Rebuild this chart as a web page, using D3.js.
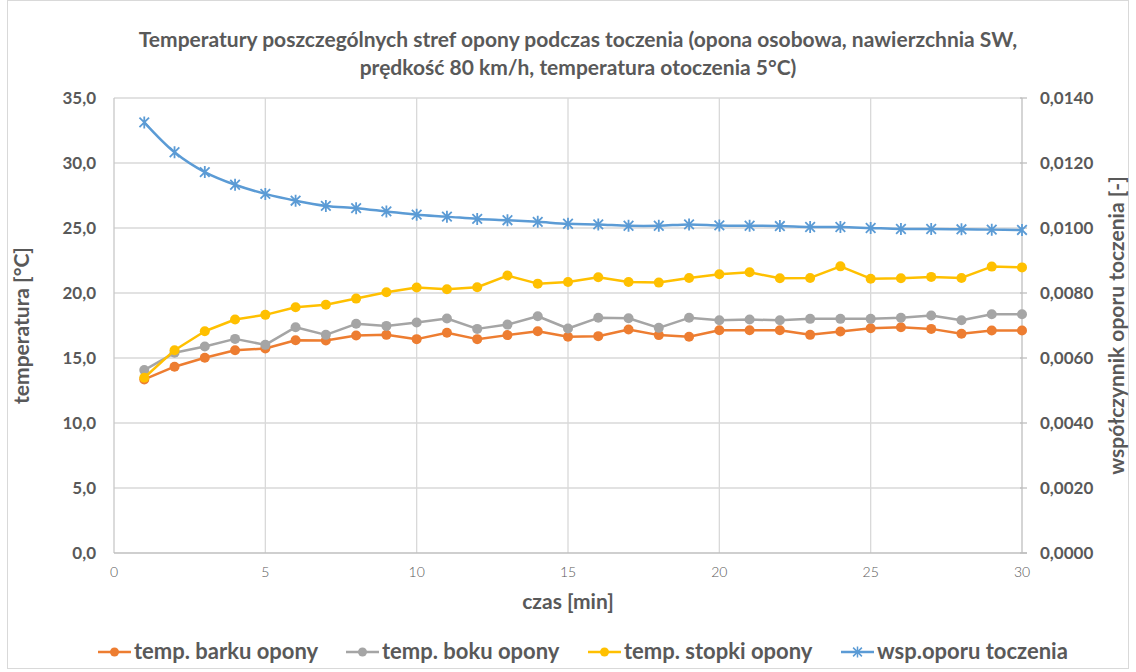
<!DOCTYPE html>
<html>
<head>
  <meta charset='utf-8'/>
  <style>
body { margin: 0; background: #fff; }
text { font-family: Lato, "Open Sans", sans-serif; fill: #595959; }
.title { font-size: 21px; font-weight: bold; text-anchor: middle; }
.ytick { font-size: 17px; font-weight: bold; }
.xtick { font-size: 14px; font-weight: 300; fill: #595959; }
.axis-title { font-size: 21px; font-weight: bold; text-anchor: middle; }
.legend { font-size: 22px; font-weight: bold; }
.grid line { stroke: #d9d9d9; stroke-width: 1.3px; }
  </style>
  <script src="https://d3js.org/d3.v7.min.js"></script>
</head>
<body>
<svg width="1136" height="672"></svg>
<script>

// czas [min]
var minutes = d3.range(1, 31);

var barku = [13.35, 14.33, 15.02, 15.6, 15.73, 16.37, 16.35, 16.73, 16.78, 16.45,
             16.94, 16.45, 16.76, 17.06, 16.63, 16.68, 17.19, 16.76, 16.63, 17.14,
             17.14, 17.14, 16.78, 17.04, 17.29, 17.37, 17.24, 16.86, 17.11, 17.11];

var boku = [14.07, 15.4, 15.89, 16.47, 16.01, 17.37, 16.78, 17.63, 17.47, 17.73,
            18.04, 17.24, 17.57, 18.21, 17.27, 18.09, 18.06, 17.32, 18.09, 17.9,
            17.96, 17.9, 18.01, 18.01, 18.01, 18.09, 18.27, 17.9, 18.37, 18.37];

var stopki = [13.48, 15.6, 17.06, 17.96, 18.32, 18.9, 19.09, 19.57, 20.06, 20.42,
              20.29, 20.44, 21.34, 20.72, 20.85, 21.21, 20.85, 20.8, 21.16, 21.44,
              21.59, 21.13, 21.16, 22.05, 21.1, 21.13, 21.24, 21.16, 22.03, 21.97];

var opor = [0.01325, 0.01233, 0.01172, 0.01133, 0.01105, 0.01084, 0.01068, 0.01061, 0.01051, 0.01041,
            0.01035, 0.01028, 0.01024, 0.01019, 0.01013, 0.01011, 0.01007, 0.01007, 0.01011, 0.01008,
            0.01007, 0.01006, 0.01003, 0.01003, 0.01000, 0.00997, 0.00997, 0.00996, 0.00995, 0.00994];

var leftTicks = [0, 5, 10, 15, 20, 25, 30, 35];
var rightTicks = [0, 0.002, 0.004, 0.006, 0.008, 0.010, 0.012, 0.014];
var xTicks = [0, 5, 10, 15, 20, 25, 30];

var series = [
  {name: "temp. barku opony", values: barku, color: "#ED7D31", axis: "left"},
  {name: "temp. boku opony", values: boku, color: "#A5A5A5", axis: "left"},
  {name: "temp. stopki opony", values: stopki, color: "#FFC000", axis: "left"},
  {name: "wsp.oporu toczenia", values: opor, color: "#5B9BD5", axis: "right"}
];

var svg = d3.select("svg");
var plotLeft = 114, plotRight = 1022, plotTop = 98, plotBottom = 553;

var x = d3.scaleLinear().domain([0, 30]).range([plotLeft, plotRight]);
var yL = d3.scaleLinear().domain([0, 35]).range([plotBottom, plotTop]);
var yR = d3.scaleLinear().domain([0, 0.014]).range([plotBottom, plotTop]);

var comma = function(f) { return function(v) { return f(v).replace(".", ","); }; };

// chart frame
svg.append("rect")
    .attr("x", 7.5).attr("y", 0.5).attr("width", 1121).attr("height", 668)
    .attr("fill", "none").attr("stroke", "#d9d9d9");

// title
var title = svg.append("text").attr("class", "title").attr("x", 578).attr("y", 47);
title.append("tspan").attr("x", 578).text("Temperatury poszczególnych stref opony podczas toczenia (opona osobowa, nawierzchnia SW,");
title.append("tspan").attr("x", 578).attr("dy", 28).text("prędkość 80 km/h, temperatura otoczenia 5°C)");

// grid
var grid = svg.append("g").attr("class", "grid");
grid.selectAll(".h").data(leftTicks.slice(1)).enter().append("line")
    .attr("x1", plotLeft).attr("x2", plotRight)
    .attr("y1", function(d) { return yL(d); }).attr("y2", function(d) { return yL(d); });
grid.selectAll(".v").data(xTicks.slice(1, -1)).enter().append("line")
    .attr("y1", plotTop).attr("y2", plotBottom)
    .attr("x1", function(d) { return x(d); }).attr("x2", function(d) { return x(d); });

// axis lines
svg.append("line").attr("x1", plotLeft).attr("x2", plotLeft).attr("y1", plotTop).attr("y2", plotBottom)
    .attr("stroke", "#c8c8c8").attr("stroke-width", 1.3);
svg.append("line").attr("x1", plotLeft).attr("x2", plotRight + 5).attr("y1", plotBottom).attr("y2", plotBottom)
    .attr("stroke", "#bfbfbf").attr("stroke-width", 1.3);
svg.append("line").attr("x1", plotRight).attr("x2", plotRight).attr("y1", plotTop).attr("y2", plotBottom)
    .attr("stroke", "#bfbfbf").attr("stroke-width", 1.3);
svg.selectAll(".rtick").data(rightTicks).enter().append("line")
    .attr("x1", plotRight - 2).attr("x2", plotRight + 5)
    .attr("y1", function(d) { return yR(d); }).attr("y2", function(d) { return yR(d); })
    .attr("stroke", "#bfbfbf").attr("stroke-width", 1.3);

// tick labels
svg.selectAll(".lt").data(leftTicks).enter().append("text")
    .attr("class", "ytick").attr("text-anchor", "end")
    .attr("x", 96).attr("y", function(d) { return yL(d) + 6; })
    .text(comma(d3.format(".1f")));
svg.selectAll(".rt").data(rightTicks).enter().append("text")
    .attr("class", "ytick").attr("text-anchor", "start")
    .attr("x", 1040).attr("y", function(d) { return yR(d) + 6; })
    .text(comma(d3.format(".4f")));
svg.selectAll(".xt").data(xTicks).enter().append("text")
    .attr("class", "xtick").attr("text-anchor", "middle")
    .attr("x", function(d) { return x(d); }).attr("y", 577)
    .text(function(d) { return d; });

// axis titles
svg.append("text").attr("class", "axis-title").attr("x", 568).attr("y", 609).text("czas [min]");
svg.append("text").attr("class", "axis-title")
    .attr("transform", "translate(29," + (plotTop + plotBottom) / 2 + ") rotate(-90)").text("temperatura [°C]");
svg.append("text").attr("class", "axis-title")
    .attr("transform", "translate(1124," + (plotTop + plotBottom) / 2 + ") rotate(-90)").text("współczynnik oporu toczenia [-]");

// star marker path (asterisk)
function star(cx, cy, r) {
  var a = r * 0.8;
  return "M" + (cx - a) + "," + (cy - a) + "L" + (cx + a) + "," + (cy + a) +
         "M" + (cx - a) + "," + (cy + a) + "L" + (cx + a) + "," + (cy - a) +
         "M" + cx + "," + (cy - r) + "L" + cx + "," + (cy + r);
}

// series
series.forEach(function(s) {
  var yS = s.axis === "left" ? yL : yR;
  var line = d3.line()
      .x(function(d, i) { return x(minutes[i]); })
      .y(function(d) { return yS(d); })
      .curve(s.axis === "right" ? d3.curveCatmullRom.alpha(0.5) : d3.curveLinear);
  var g = svg.append("g");
  g.append("path").datum(s.values).attr("d", line)
      .attr("fill", "none").attr("stroke", s.color).attr("stroke-width", 2.5)
      .attr("stroke-linejoin", "round");
  if (s.axis === "left") {
    g.selectAll("circle").data(s.values).enter().append("circle")
        .attr("cx", function(d, i) { return x(minutes[i]); })
        .attr("cy", function(d) { return yS(d); })
        .attr("r", 5).attr("fill", s.color);
  } else {
    g.selectAll(".star").data(s.values).enter().append("path")
        .attr("d", function(d, i) { return star(x(minutes[i]), yS(d), 6); })
        .attr("stroke", s.color).attr("stroke-width", 1.8).attr("fill", "none");
  }
});

// legend
var legendX = [98, 346, 588, 841];
var lg = svg.selectAll(".lg").data(series).enter().append("g")
    .attr("transform", function(d, i) { return "translate(" + legendX[i] + ",652)"; });
lg.append("line").attr("x1", 0).attr("x2", 33).attr("y1", 0).attr("y2", 0)
    .attr("stroke", function(d) { return d.color; }).attr("stroke-width", 2.5);
lg.each(function(d) {
  var g = d3.select(this);
  if (d.axis === "left") {
    g.append("circle").attr("cx", 16.5).attr("cy", 0).attr("r", 4.5).attr("fill", d.color);
  } else {
    g.append("path").attr("d", star(16.5, 0, 5.5)).attr("stroke", d.color)
        .attr("stroke-width", 1.5).attr("fill", "none");
  }
});
lg.append("text").attr("class", "legend").attr("x", 36).attr("y", 7)
    .text(function(d) { return d.name; });

</script>
</body>
</html>
